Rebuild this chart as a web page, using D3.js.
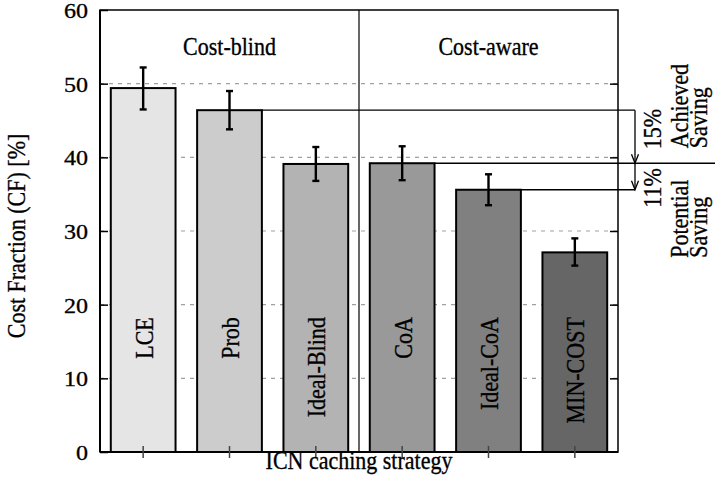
<!DOCTYPE html>
<html>
<head>
<meta charset="utf-8">
<script src="https://cdn.jsdelivr.net/npm/d3@7/dist/d3.min.js"></script>
<style>
  html, body { margin: 0; padding: 0; background: #fff; }
  svg { display: block; }
  text { font-family: "Liberation Serif", "Times New Roman", serif; fill: #000; stroke: #000; stroke-width: 0.3px; }
</style>
</head>
<body>
<svg id="chart" width="715" height="481"></svg>
<script>
// ---- data ----
const categories = ["LCE", "Prob", "Ideal-Blind", "CoA", "Ideal-CoA", "MIN-COST"];
const values     = [49.4, 46.4, 39.1, 39.2, 35.6, 27.1];
const errLow     = [46.5, 43.8, 36.8, 36.9, 33.5, 25.3];
const errHigh    = [52.2, 49.0, 41.4, 41.5, 37.7, 29.0];
const fills      = ["#e5e5e5", "#cccccc", "#b3b3b3", "#999999", "#808080", "#666666"];
const yTicks     = [0, 10, 20, 30, 40, 50, 60];
const gridTicks  = [10, 20, 30, 40, 50];
const groups     = [
  { label: "Cost-blind", from: 0, to: 2 },
  { label: "Cost-aware", from: 3, to: 5 }
];
const savings = [
  { pct: "15%", lines: ["Achieved", "Saving"] },
  { pct: "11%", lines: ["Potential", "Saving"] }
];

// ---- layout ----
const W = 715, H = 481;
const m = { left: 100, right: 97, top: 10, bottom: 29 };
const x0 = m.left, x1 = W - m.right, y0 = m.top, y1 = H - m.bottom;
const SY = 1.1; // vertical glyph stretch seen in the reference

const svg = d3.select("#chart");
const x = d3.scaleBand().domain(categories).range([x0, x1]).paddingInner(0.25).paddingOuter(0.125);
const y = d3.scaleLinear().domain([0, 60]).range([y1, y0]);

// grid
svg.append("g").selectAll("line").data(gridTicks).join("line")
  .attr("x1", x0).attr("x2", x1)
  .attr("y1", d => y(d)).attr("y2", d => y(d))
  .attr("stroke", "#a0a0a0").attr("stroke-width", 1.2).attr("stroke-dasharray", "4,5");

// separator between groups
const sepX = x(categories[3]) - x.step() * x.paddingInner() / 2;
svg.append("line").attr("x1", sepX).attr("x2", sepX).attr("y1", y0).attr("y2", y1)
  .attr("stroke", "#000").attr("stroke-width", 1.2);

// saving reference lines (drawn before bars)
const arrowX = x1 + 17;
const lineG = svg.append("g");
lineG.append("line").attr("x1", x(categories[1]) + x.bandwidth()).attr("x2", arrowX)
  .attr("y1", y(values[1])).attr("y2", y(values[1])).attr("stroke", "#000").attr("stroke-width", 1.3);
lineG.append("line").attr("x1", x(categories[3]) + x.bandwidth()).attr("x2", W)
  .attr("y1", y(values[3])).attr("y2", y(values[3])).attr("stroke", "#000").attr("stroke-width", 1.3);
lineG.append("line").attr("x1", x(categories[4]) + x.bandwidth()).attr("x2", arrowX)
  .attr("y1", y(values[4])).attr("y2", y(values[4])).attr("stroke", "#000").attr("stroke-width", 1.3);

// bars
svg.append("g").selectAll("rect").data(categories).join("rect")
  .attr("x", d => x(d)).attr("width", x.bandwidth())
  .attr("y", (d, i) => y(values[i])).attr("height", (d, i) => y(0) - y(values[i]))
  .attr("fill", (d, i) => fills[i]).attr("stroke", "#000").attr("stroke-width", 2);

// bar labels (rotated)
svg.append("g").selectAll("text").data(categories).join("text")
  .attr("transform", d => `translate(${x(d) + x.bandwidth() / 2 + 1},${y(18.3)}) rotate(-90) scale(1,${SY})`)
  .attr("text-anchor", "end").attr("dy", "0.35em")
  .attr("font-size", 22).text(d => d);

// error bars
const eb = svg.append("g").attr("stroke", "#000").attr("stroke-width", 2.4);
categories.forEach((c, i) => {
  const cx = x(c) + x.bandwidth() / 2;
  eb.append("line").attr("x1", cx).attr("x2", cx).attr("y1", y(errLow[i])).attr("y2", y(errHigh[i]));
  eb.append("line").attr("x1", cx - 3.5).attr("x2", cx + 3.5).attr("y1", y(errLow[i])).attr("y2", y(errLow[i]));
  eb.append("line").attr("x1", cx - 3.5).attr("x2", cx + 3.5).attr("y1", y(errHigh[i])).attr("y2", y(errHigh[i]));
});

// frame
svg.append("rect").attr("x", x0).attr("y", y0).attr("width", x1 - x0).attr("height", y1 - y0)
  .attr("fill", "none").attr("stroke", "#000").attr("stroke-width", 1.5);
svg.append("line").attr("x1", x0).attr("x2", x0).attr("y1", y0).attr("y2", y1).attr("stroke", "#000").attr("stroke-width", 2);
svg.append("line").attr("x1", x0).attr("x2", x1).attr("y1", y1).attr("y2", y1).attr("stroke", "#000").attr("stroke-width", 2);

// y axis (left) with inward ticks
const yAxisL = d3.axisLeft(y).tickValues(yTicks).tickSize(-8).tickPadding(10).tickFormat(d3.format("d"));
const gL = svg.append("g").attr("transform", `translate(${x0},0)`).call(yAxisL);
gL.select(".domain").remove();
gL.selectAll(".tick line").attr("stroke", "#000").attr("stroke-width", 1.5);
gL.selectAll(".tick text").attr("font-size", 20).attr("font-family", "Liberation Serif")
  .attr("fill", "#000").attr("dy", "0.38em").attr("transform", "scale(1.2,1)");

// y axis (right) inward ticks, no labels
const yAxisR = d3.axisRight(y).tickValues(yTicks.slice(1, -1)).tickSize(-8).tickFormat("");
const gR = svg.append("g").attr("transform", `translate(${x1},0)`).call(yAxisR);
gR.select(".domain").remove();
gR.selectAll(".tick line").attr("stroke", "#000").attr("stroke-width", 1.5);

// x ticks crossing the bottom axis
const xt = svg.append("g");
categories.forEach(c => {
  const cx = x(c) + x.bandwidth() / 2;
  xt.append("line").attr("x1", cx).attr("x2", cx).attr("y1", y1 - 6).attr("y2", y1 + 6)
    .attr("stroke", "#444").attr("stroke-width", 1.5);
});

// group labels
groups.forEach(g => {
  const a = g.from === 0 ? x0 : sepX;
  const b = g.to === categories.length - 1 ? x1 : sepX;
  svg.append("text").attr("transform", `translate(${(a + b) / 2},55) scale(1,${SY})`)
    .attr("text-anchor", "middle").attr("font-size", 22).text(g.label);
});

// arrows
function arrow(xp, ya, yb) {
  svg.append("line").attr("x1", xp).attr("x2", xp).attr("y1", ya).attr("y2", yb)
    .attr("stroke", "#000").attr("stroke-width", 1.3);
  svg.append("path").attr("d", `M${xp - 3.5},${yb - 9} L${xp},${yb} L${xp + 3.5},${yb - 9}`)
    .attr("fill", "none").attr("stroke", "#000").attr("stroke-width", 1.3);
}
arrow(arrowX, y(values[1]), y(values[3]));
arrow(arrowX, y(values[3]), y(values[4]));

// saving texts
const pctStart  = [y(values[3]) - 14, y(values[4]) + 18];
const lineStart = [y(values[3]) - 15, y(values[4]) + 68];
savings.forEach((s, k) => {
  svg.append("text").attr("transform", `translate(661,${pctStart[k]}) rotate(-90) scale(1,${SY})`)
    .attr("text-anchor", "start").attr("font-size", 22).text(s.pct);
  s.lines.forEach((ln, j) => {
    svg.append("text").attr("transform", `translate(${688 + j * 19},${lineStart[k]}) rotate(-90) scale(1,${SY})`)
      .attr("text-anchor", "start").attr("font-size", 22).text(ln);
  });
});

// axis titles
svg.append("text").attr("transform", `translate(${(x0 + x1) / 2},469) scale(1,${SY})`)
  .attr("text-anchor", "middle").attr("font-size", 22).text("ICN caching strategy");
svg.append("text").attr("transform", `translate(25,${(y0 + y1) / 2 + 5}) rotate(-90) scale(1,${SY})`)
  .attr("text-anchor", "middle").attr("font-size", 22).text("Cost Fraction (CF) [%]");
</script>
</body>
</html>
